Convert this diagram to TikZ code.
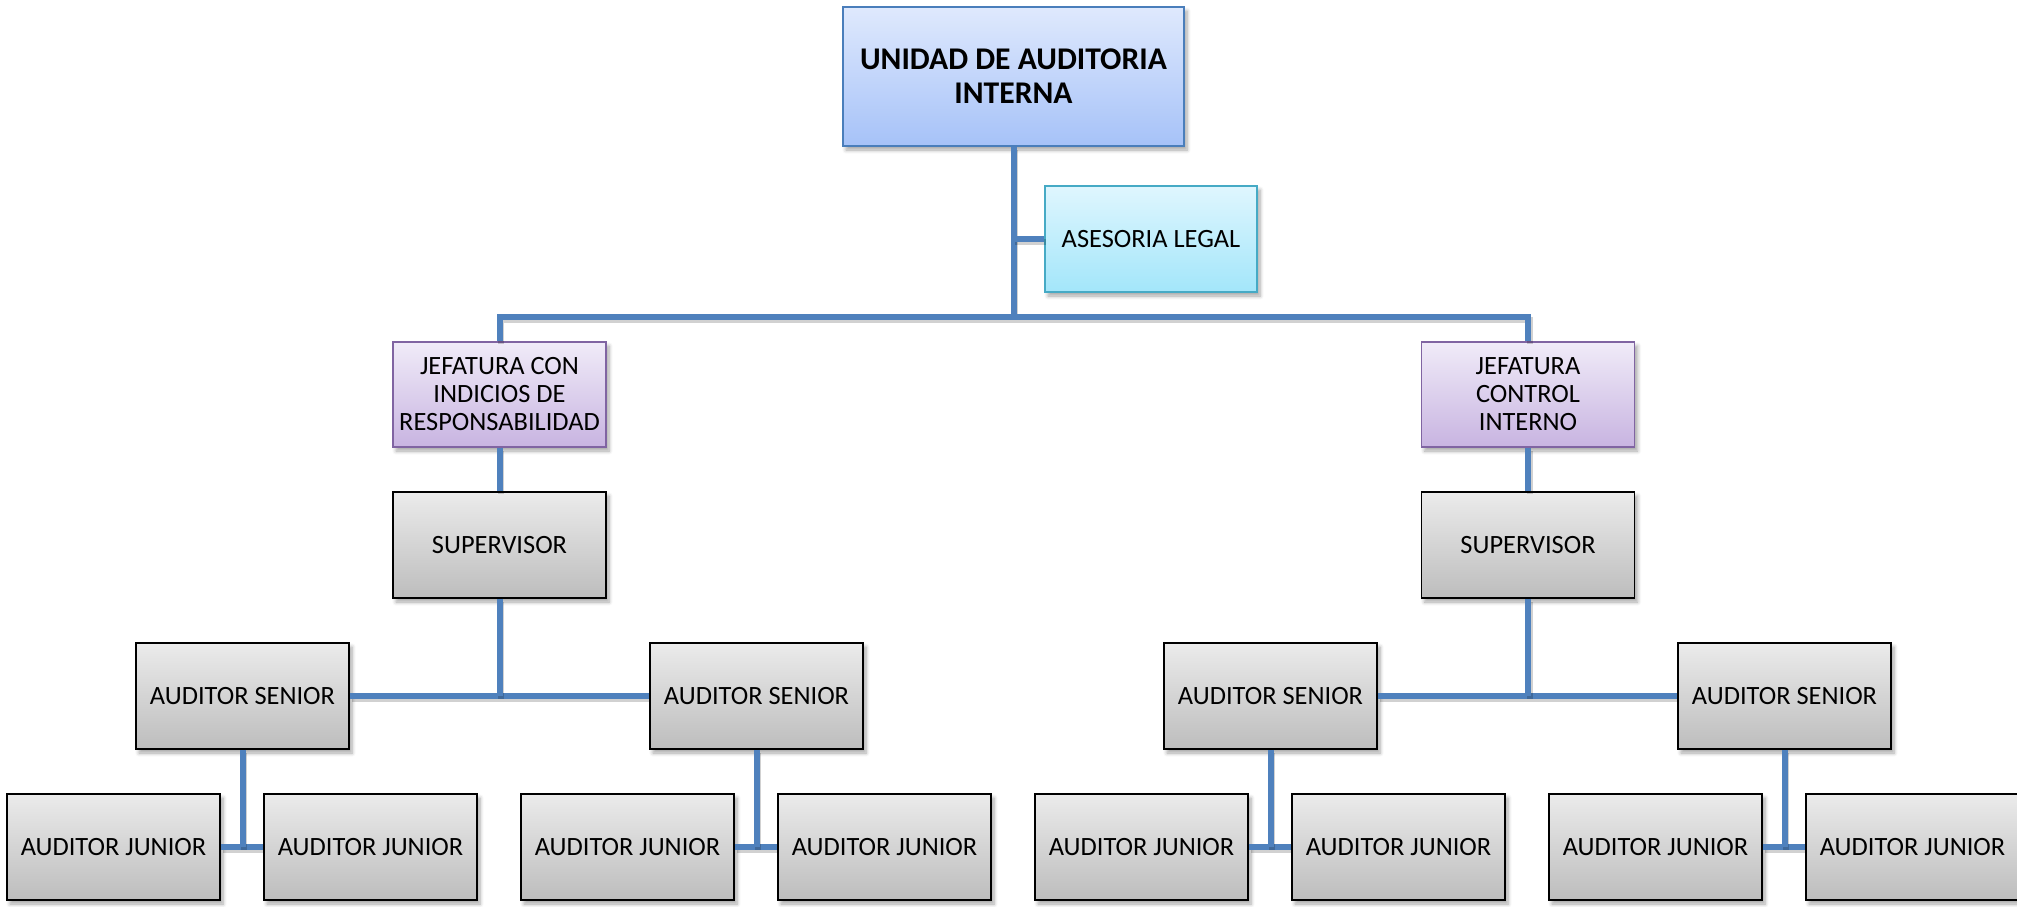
\documentclass[tikz,border=0pt]{standalone}
\usepackage{fontspec}
\setmainfont{Carlito}
\usetikzlibrary{shadows.blur}

% palette
\definecolor{linkblue}{HTML}{4F81BD}
\definecolor{headtop}{HTML}{DFE9FD}
\definecolor{headbot}{HTML}{A6C2F8}
\definecolor{headline}{HTML}{4A7EBB}
\definecolor{legaltop}{HTML}{DFF6FE}
\definecolor{legalbot}{HTML}{A3E6FA}
\definecolor{legalline}{HTML}{46AAC5}
\definecolor{jeftop}{HTML}{F0EBF8}
\definecolor{jefbot}{HTML}{C8B4E1}
\definecolor{jefline}{HTML}{8064A2}
\definecolor{graytop}{HTML}{EBEBEB}
\definecolor{graybot}{HTML}{BDBDBD}

\tikzset{
  unitbox/.style={rectangle, shading=axis, shading angle=0, align=center,
    inner sep=0pt, font=\fontsize{13.2pt}{14pt}\selectfont,
    blur shadow={shadow xshift=1.5pt, shadow yshift=-2pt, shadow blur steps=6,
      shadow opacity=35}},
  headbox/.style={unitbox, minimum width=170.5pt, minimum height=69.5pt,
    top color=headtop, bottom color=headbot, draw=headline, line width=1pt,
    font=\fontsize{15.8pt}{17pt}\selectfont\bfseries},
  legalbox/.style={unitbox, minimum width=106pt, minimum height=53pt,
    top color=legaltop, bottom color=legalbot, draw=legalline, line width=1pt},
  jefbox/.style={unitbox, minimum width=106.5pt, minimum height=52.5pt,
    top color=jeftop, bottom color=jefbot, draw=jefline, line width=0.8pt},
  graybox/.style={unitbox, minimum width=106.5pt, minimum height=53pt,
    top color=graytop, bottom color=graybot, draw=black, line width=0.9pt},
  link/.style={draw=linkblue, line width=3pt,
    preaction={draw=black, opacity=0.18, line width=3pt,
      transform canvas={shift={(0.8pt,-1.6pt)}}}},
}

\begin{document}
\begin{tikzpicture}[x=0.5pt, y=-0.5pt]
\useasboundingbox (0,0) rectangle (2017,906);

% branch points on the main trunk
\coordinate (bus) at (1013.5,317);
\coordinate (legaltap) at (1013.5,239);

% boxes
\node[headbox]  (top)   at (1013.5,76.5) {UNIDAD DE AUDITORIA\\INTERNA};
\node[legalbox] (legal) at (1151,239)    {ASESORIA LEGAL};

\node[jefbox] (jefL) at (499.5,394.5) {JEFATURA CON\\INDICIOS DE\\RESPONSABILIDAD};
\node[jefbox] (jefR) at (1528,394.5)  {JEFATURA\\CONTROL\\INTERNO};

\node[graybox] (supL) at (499.5,545) {SUPERVISOR};
\node[graybox] (supR) at (1528,545)  {SUPERVISOR};

\node[graybox] (srA) at (242.5,696)  {AUDITOR SENIOR};
\node[graybox] (srB) at (756.5,696)  {AUDITOR SENIOR};
\node[graybox] (srC) at (1270.5,696) {AUDITOR SENIOR};
\node[graybox] (srD) at (1784.5,696) {AUDITOR SENIOR};

\node[graybox] (jA1) at (113.5,847)  {AUDITOR JUNIOR};
\node[graybox] (jA2) at (370.5,847)  {AUDITOR JUNIOR};
\node[graybox] (jB1) at (627.5,847)  {AUDITOR JUNIOR};
\node[graybox] (jB2) at (884.5,847)  {AUDITOR JUNIOR};
\node[graybox] (jC1) at (1141.5,847) {AUDITOR JUNIOR};
\node[graybox] (jC2) at (1398.5,847) {AUDITOR JUNIOR};
\node[graybox] (jD1) at (1655.5,847) {AUDITOR JUNIOR};
\node[graybox] (jD2) at (1912.5,847) {AUDITOR JUNIOR};

% connectors (they stop at the box borders)
\path[link] (top.south) -- (bus);
\path[link] (legaltap) -- (legal.west);
\path[link] (jefL.north) |- (bus) -| (jefR.north);

\path[link] (jefL.south) -- (supL.north);
\path[link] (jefR.south) -- (supR.north);

\path[link] (srA.east) -- (srB.west);
\path[link] (supL.south) -- (supL.south |- srA.east);
\path[link] (srC.east) -- (srD.west);
\path[link] (supR.south) -- (supR.south |- srC.east);

\path[link] (jA1.east) -- (jA2.west);
\path[link] (srA.south) -- (srA.south |- jA1.east);
\path[link] (jB1.east) -- (jB2.west);
\path[link] (srB.south) -- (srB.south |- jB1.east);
\path[link] (jC1.east) -- (jC2.west);
\path[link] (srC.south) -- (srC.south |- jC1.east);
\path[link] (jD1.east) -- (jD2.west);
\path[link] (srD.south) -- (srD.south |- jD1.east);
\end{tikzpicture}
\end{document}
